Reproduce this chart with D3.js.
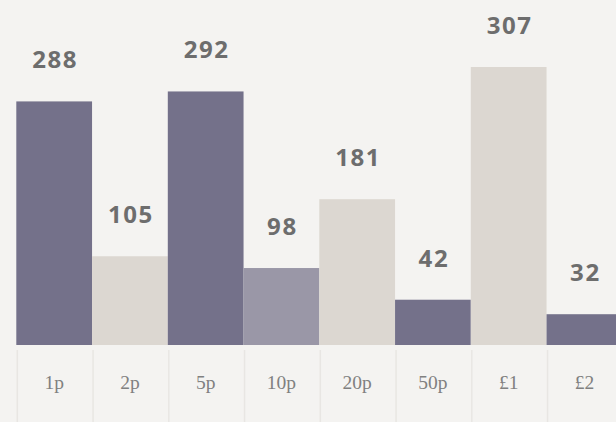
<!DOCTYPE html>
<html lang="en">
	<head>
		<meta charset="UTF-8" />
		<script src="https://cdnjs.cloudflare.com/ajax/libs/d3/7.8.5/d3.min.js"></script>
		<title>Coins</title>
		<style>
			html, body { margin: 0; padding: 0; background: #f4f3f1; }
			svg { display: block; }
		</style>
	</head>
	<body>
		<div class="chart"></div>

		<script>
			// data
			const coins = ['1p', '2p', '5p', '10p', '20p', '50p', '£1', '£2']
			const labels = [288, 105, 292, 98, 181, 42, 307, 32]
			// bar heights as drawn (they do not follow the printed numbers)
			const plotted = [269, 98, 280, 85, 161, 50, 307, 34]
			const tones = ['dark', 'light', 'dark', 'mid', 'light', 'dark', 'light', 'dark']

			const svgWidth = 616
			const svgHeight = 422
			const baseY = 345

			const svg = d3
				.select('.chart')
				.append('svg')
				.attr('width', svgWidth)
				.attr('height', svgHeight)

			svg.append('rect')
				.attr('width', svgWidth)
				.attr('height', svgHeight)
				.attr('fill', '#f4f3f1')

			const xScale = d3.scaleBand().domain(coins).range([16.3, 622.3]).padding(0)
			const yScale = d3.scaleLinear().domain([0, d3.max(plotted)]).range([baseY, 67])
			const color = d3
				.scaleOrdinal()
				.domain(['dark', 'light', 'mid'])
				.range(['#74718a', '#dcd7d1', '#9a97a7'])

			const data = coins.map((c, i) => ({ coin: c, label: labels[i], v: plotted[i], tone: tones[i] }))

			// bars
			svg.selectAll('rect.bar')
				.data(data)
				.join('rect')
				.attr('class', 'bar')
				.attr('x', d => xScale(d.coin))
				.attr('y', d => yScale(d.v))
				.attr('width', xScale.bandwidth())
				.attr('height', d => baseY - yScale(d.v))
				.attr('fill', d => color(d.tone))

			// value labels
			svg.selectAll('text.val')
				.data(data)
				.join('text')
				.attr('class', 'val')
				.attr('x', d => xScale(d.coin) + xScale.bandwidth() / 2 + 1)
				.attr('y', d => yScale(d.v) - 33)
				.attr('text-anchor', 'middle')
				.style('font-family', '"Open Sans", sans-serif')
				.style('font-weight', 700)
				.style('font-size', '24px')
				.style('letter-spacing', '1.6px')
				.style('fill', '#6d6d6d')
				.text(d => d.label)

			// category cells
			const xAxis = svg.append('g')
			xAxis.selectAll('line')
				.data(coins)
				.join('line')
				.attr('x1', d => xScale(d) + 1)
				.attr('x2', d => xScale(d) + 1)
				.attr('y1', 350)
				.attr('y2', svgHeight)
				.attr('stroke', '#e8e6e3')
				.attr('stroke-width', 1.5)

			xAxis.selectAll('text')
				.data(coins)
				.join('text')
				.attr('x', d => xScale(d) + xScale.bandwidth() / 2)
				.attr('y', 389)
				.attr('text-anchor', 'middle')
				.style('font-family', '"Liberation Serif", serif')
				.style('font-size', '19.5px')
				.style('fill', '#808080')
				.text(d => d)
		</script>
	</body>
</html>
